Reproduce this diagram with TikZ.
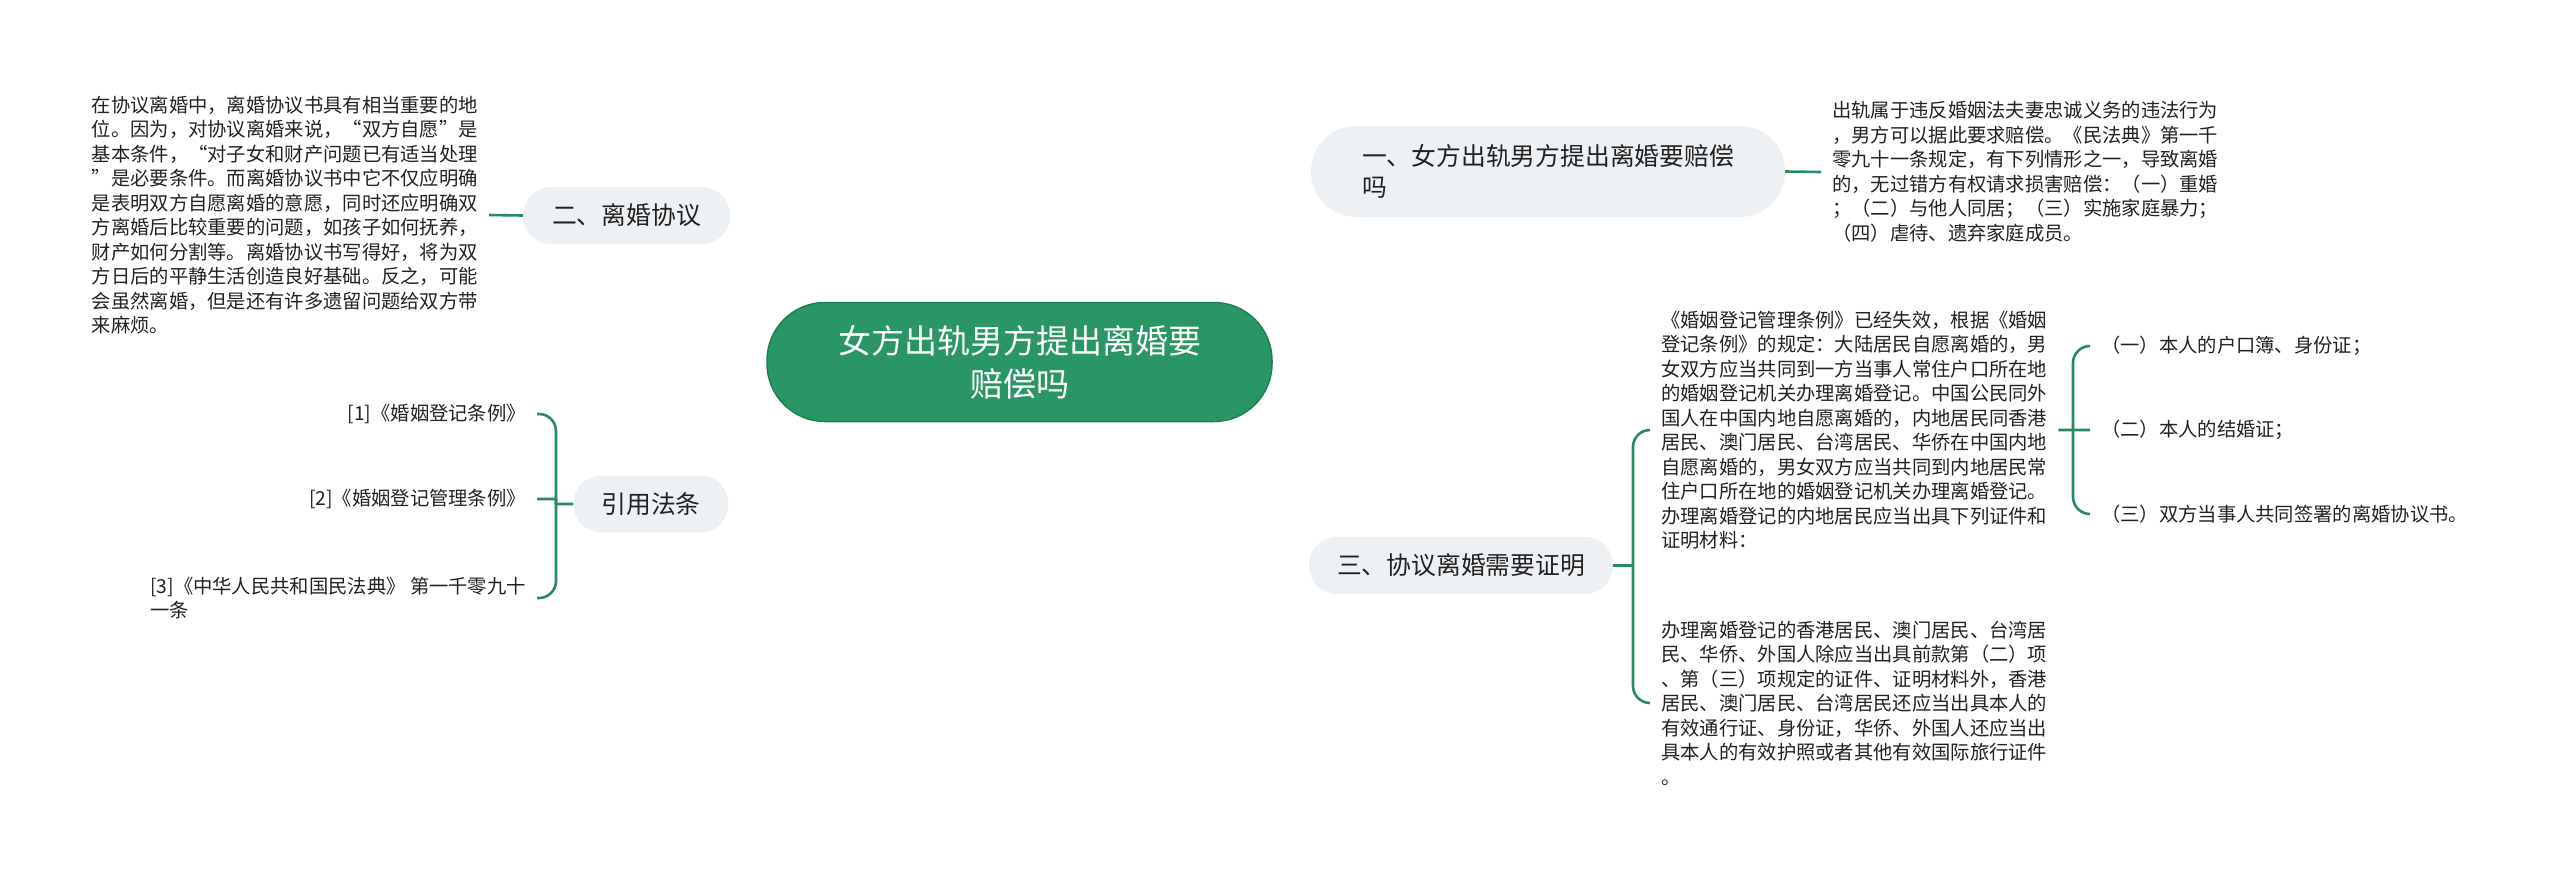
\documentclass[tikz,border=0pt]{standalone}
\usepackage{fontspec}
\usepackage{xcolor}
\usetikzlibrary{positioning,backgrounds,calc}
\newfontfamily\cjk{Noto Sans CJK SC}
\definecolor{mapgreen}{RGB}{42,150,101}
\definecolor{mapedge}{RGB}{30,128,84}
\definecolor{mapline}{RGB}{38,140,94}
\definecolor{pillgray}{RGB}{238,241,244}
\definecolor{inkgray}{RGB}{34,34,34}
\tikzset{
    rootnode/.style={draw=mapedge, line width=1.5pt, fill=mapgreen, rounded corners=58pt,
        minimum width=505pt, minimum height=119pt, align=center, text=white,
        font=\cjk\fontsize{33}{43}\selectfont},
    topic/.style={fill=pillgray, rounded corners=28pt, minimum height=57pt, inner sep=0pt,
        align=left, text=inkgray, font=\cjk\fontsize{24.8}{31}\selectfont},
    note/.style={inner xsep=11pt, inner ysep=0pt, align=left, text=inkgray,
        font=\cjk\fontsize{19.3}{24.5}\selectfont},
    link/.style={draw=mapline, line width=2.6pt}
}

\begin{document}
\begin{tikzpicture}[x=1pt, y=-1pt]
                        \useasboundingbox[fill=white] (0,0) rectangle (2560,881);

                        \node[rootnode] (root) at (1019.5, 362) {女方出轨男方提出离婚要\\赔偿吗};
                        \node[topic, minimum width=474pt, minimum height=91pt, rounded corners=45pt] (b1) at (1548, 171.5) {一、女方出轨男方提出离婚要赔偿\\吗};
                        \node[topic, minimum width=207pt] (b2) at (626.5, 215.5) {二、离婚协议};
                        \node[topic, minimum width=304pt] (b3) at (1461, 565.5) {三、协议离婚需要证明};
                        \node[topic, minimum width=155pt] (b4) at (651, 504) {引用法条};

                        \node[note, anchor=west] (d1) at (1821, 172) {出轨属于违反婚姻法夫妻忠诚义务的违法行为\\，男方可以据此要求赔偿。《民法典》第一千\\零九十一条规定，有下列情形之一，导致离婚\\的，无过错方有权请求损害赔偿：（一）重婚\\；（二）与他人同居；（三）实施家庭暴力；\\（四）虐待、遗弃家庭成员。};
                        \node[note, anchor=east] (d2) at (489, 215) {在协议离婚中，离婚协议书具有相当重要的地\\位。因为，对协议离婚来说，“双方自愿”是\\基本条件，“对子女和财产问题已有适当处理\\”是必要条件。而离婚协议书中它不仅应明确\\是表明双方自愿离婚的意愿，同时还应明确双\\方离婚后比较重要的问题，如孩子如何抚养，\\财产如何分割等。离婚协议书写得好，将为双\\方日后的平静生活创造良好基础。反之，可能\\会虽然离婚，但是还有许多遗留问题给双方带\\来麻烦。};
                        \node[note, anchor=west] (d3a) at (1650, 430) {《婚姻登记管理条例》已经失效，根据《婚姻\\登记条例》的规定：大陆居民自愿离婚的，男\\女双方应当共同到一方当事人常住户口所在地\\的婚姻登记机关办理离婚登记。中国公民同外\\国人在中国内地自愿离婚的，内地居民同香港\\居民、澳门居民、台湾居民、华侨在中国内地\\自愿离婚的，男女双方应当共同到内地居民常\\住户口所在地的婚姻登记机关办理离婚登记。\\办理离婚登记的内地居民应当出具下列证件和\\证明材料：};
                        \node[note, anchor=west] (d3b) at (1650, 703) {办理离婚登记的香港居民、澳门居民、台湾居\\民、华侨、外国人除应当出具前款第（二）项\\、第（三）项规定的证件、证明材料外，香港\\居民、澳门居民、台湾居民还应当出具本人的\\有效通行证、身份证，华侨、外国人还应当出\\具本人的有效护照或者其他有效国际旅行证件\\。};
                        \node[note, anchor=west] (i1) at (2090, 346) {（一）本人的户口簿、身份证；};
                        \node[note, anchor=west] (i2) at (2090, 430) {（二）本人的结婚证；};
                        \node[note, anchor=west] (i3) at (2090, 514) {（三）双方当事人共同签署的离婚协议书。};
                        \node[note, anchor=east] (r1) at (537, 414) {[1]《婚姻登记条例》};
                        \node[note, anchor=east] (r2) at (537, 499) {[2]《婚姻登记管理条例》};
                        \node[note, anchor=east] (r3) at (537, 598) {[3]《中华人民共和国民法典》 第一千零九十\\一条};

                        \coordinate (k3) at (1633, 565.5);
                        \coordinate (k3s) at (2073, 430);
                        \coordinate (k4) at (556, 504);

                        \begin{scope}[on background layer]
                        \draw[link]
                        (root.center) .. controls +(23,-172) and +(-179,0) .. (b1.west)
                        (root.center) .. controls +(-17,-122) and +(190,0) .. (b2.west)
                        (root.center) .. controls +(23,172) and +(-179,0) .. (b3.west)
                        (root.center) .. controls +(-17,110) and +(180,0) .. (b4.east);
                        \end{scope}

                        \draw[link]
                        (b1.east) -- (d1.west)
                        (b2.west) -- (d2.east)
                        (b3.east) -- (k3)
                        (d3a.east) -- (k3s)
                        (k3s) -- (i2.west)
                        (b4.west) -- (k4)
                        (k4) |- (r2.east);
                        \draw[link, rounded corners=17pt]
                        (k3) |- (d3a.west)
                        (k3) |- (d3b.west)
                        (k3s) |- (i1.west)
                        (k3s) |- (i3.west)
                        (k4) |- (r1.east)
                        (k4) |- (r3.east);
                    \end{tikzpicture}
\end{document}
